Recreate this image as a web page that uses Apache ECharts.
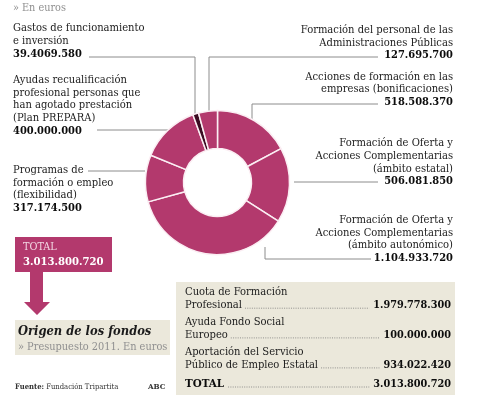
<!DOCTYPE html>
<html>
<head>
<meta charset="utf-8">
<script src="https://cdn.jsdelivr.net/npm/echarts@6/dist/echarts.min.js"></script>
<style>
html, body { margin: 0; padding: 0; background: #fff; }
#chart { width: 478px; height: 399px; }
</style>
</head>
<body>
<div id="chart"></div>
<script>
// destino de los fondos, en sentido horario desde las 12
const sliceNames = [
  'Acciones de formación en las\nempresas (bonificaciones)',
  'Formación de Oferta y\nAcciones Complementarias\n(ámbito estatal)',
  'Formación de Oferta y\nAcciones Complementarias\n(ámbito autonómico)',
  'Programas de\nformación o empleo\n(flexibilidad)',
  'Ayudas recualificación\nprofesional personas que\nhan agotado prestación\n(Plan PREPARA)',
  'Gastos de funcionamiento\ne inversión',
  'Formación del personal de las\nAdministraciones Públicas'
]
const sliceValues = [518508370, 506081850, 1104933720, 317174500, 400000000, 39406580, 127695700]
const sliceLabels = ['518.508.370', '506.081.850', '1.104.933.720', '317.174.500', '400.000.000', '39.4069.580', '127.695.700']

// origen de los fondos
const fundNames = ['Cuota de Formación\nProfesional', 'Ayuda Fondo Social\nEuropeo', 'Aportación del Servicio\nPúblico de Empleo Estatal']
const fundValues = ['1.979.778.300', '100.000.000', '934.022.420']
const totalLabel = '3.013.800.720'

const MAGENTA = '#b3396d'
const DARK = '#3b0c22'
const BEIGE = '#ebe8db'
const SERIF = "'DejaVu Serif Condensed', 'Liberation Serif', serif"
const LH = 12.7

// posición de cada rótulo y su línea guía (mismo orden que sliceValues)
const labelLayout = [
  { x: 453, y: 76.7, align: 'right', line: [[378, 104], [252, 104], [252, 119]] },
  { x: 453, y: 143.3, align: 'right', line: [[294, 182], [378, 182]] },
  { x: 453, y: 220, align: 'right', line: [[371, 259], [265, 259], [265, 247]] },
  { x: 13, y: 170, align: 'left', line: [[88, 171], [145, 171]] },
  { x: 13, y: 80, align: 'left', line: [[97, 130], [168, 130]] },
  { x: 13, y: 28.5, align: 'left', line: [[89, 57], [195, 57], [195, 115]] },
  { x: 453, y: 30, align: 'right', line: [[378, 57], [209, 57], [209, 112]] }
]

const measure = (() => {
  const ctx = document.createElement('canvas').getContext('2d')
  return (text, font) => { ctx.font = font; return ctx.measureText(text).width }
})()

const graphics = []
const txt = (x, y, text, opts = {}) => {
  graphics.push({
    type: 'text',
    silent: true,
    style: Object.assign({
      x, y, text,
      font: `${opts.weight || 'normal'} ${opts.size || 11.1}px ${SERIF}`,
      fill: opts.fill || '#1c1c1c',
      textAlign: opts.align || 'left',
      textVerticalAlign: 'middle'
    }, opts.extra || {})
  })
}
const polyline = (points, opts = {}) => {
  graphics.push({
    type: 'polyline',
    silent: true,
    shape: { points },
    style: Object.assign({ stroke: '#8c8c8c', lineWidth: 1, fill: null }, opts)
  })
}

txt(13, 8, '» En euros', { fill: '#8f8f8f', size: 10.8 })

sliceNames.forEach((name, i) => {
  const L = labelLayout[i]
  const lines = name.split('\n')
  lines.forEach((ln, k) => txt(L.x, L.y + k * LH, ln, { align: L.align }))
  txt(L.x, L.y + lines.length * LH, sliceLabels[i], { align: L.align, weight: 'bold', size: 11, fill: '#0d0d0d' })
  polyline(L.line)
})

// caja TOTAL y flecha
graphics.push({ type: 'rect', silent: true, shape: { x: 15, y: 237, width: 97, height: 35 }, style: { fill: MAGENTA } })
txt(23, 247, 'TOTAL', { fill: '#f2d6e2', size: 10.8 })
txt(23, 262, totalLabel, { fill: '#fff', weight: 'bold', size: 11.2 })
graphics.push({
  type: 'polygon', silent: true,
  shape: { points: [[30, 272], [43, 272], [43, 302], [50, 302], [37, 315], [24, 302], [30, 302]] },
  style: { fill: MAGENTA }
})

// título del bloque de origen
graphics.push({ type: 'rect', silent: true, shape: { x: 15, y: 320, width: 155, height: 35 }, style: { fill: BEIGE } })
txt(18, 332, 'Origen de los fondos', { weight: 'italic bold', size: 12.8, fill: '#1a1a1a' })
txt(18, 347, '» Presupuesto 2011. En euros', { size: 10.9, fill: '#8f8f8f' })

txt(15, 387, '{b|Fuente:} Fundación Tripartita', {
  size: 7.6, fill: '#333',
  extra: { rich: { b: { fontWeight: 'bold', fontSize: 7.6, fontFamily: SERIF, fill: '#333' } } }
})
txt(148, 387, 'ABC', { weight: 'bold', size: 8, fill: '#333' })

// tabla de origen
graphics.push({ type: 'rect', silent: true, shape: { x: 176, y: 282, width: 279, height: 113 }, style: { fill: BEIGE } })
const rowTops = [292, 321.7, 351.7]
const nameFont = `normal 11.1px ${SERIF}`
const valFont = `bold 10.8px ${SERIF}`
const dots = (x1, x2, y) => polyline([[x1, y], [x2, y]], { stroke: '#7a7a7a', lineDash: [1, 1.3], lineWidth: 0.8 })
fundNames.forEach((name, i) => {
  const lines = name.split('\n')
  lines.forEach((ln, k) => txt(185, rowTops[i] + k * 13.2, ln))
  const yLast = rowTops[i] + (lines.length - 1) * 13.2
  txt(451, yLast, fundValues[i], { align: 'right', weight: 'bold', size: 10.8, fill: '#0d0d0d' })
  const x1 = 185 + measure(lines[lines.length - 1], nameFont) + 3
  const x2 = 451 - measure(fundValues[i], valFont) - 4
  dots(x1, x2, yLast + 3)
})
txt(185, 384, 'TOTAL', { weight: 'bold', size: 11.5, fill: '#0d0d0d' })
txt(451, 384, totalLabel, { align: 'right', weight: 'bold', size: 10.8, fill: '#0d0d0d' })
dots(185 + measure('TOTAL', `bold 11.5px ${SERIF}`) + 4, 451 - measure(totalLabel, valFont) - 4, 387)

const chart = echarts.init(document.getElementById('chart'))
chart.setOption({
  animation: false,
  series: [{
    type: 'pie',
    silent: true,
    center: [217.5, 182.5],
    radius: [34, 72],
    startAngle: 90,
    clockwise: true,
    label: { show: false },
    labelLine: { show: false },
    itemStyle: { borderColor: '#fbeef3', borderWidth: 1.5 },
    data: sliceValues.map((v, i) => ({
      value: v,
      name: sliceNames[i],
      itemStyle: { color: i === 5 ? DARK : MAGENTA }
    }))
  }],
  graphic: { elements: graphics }
})
</script>
</body>
</html>
